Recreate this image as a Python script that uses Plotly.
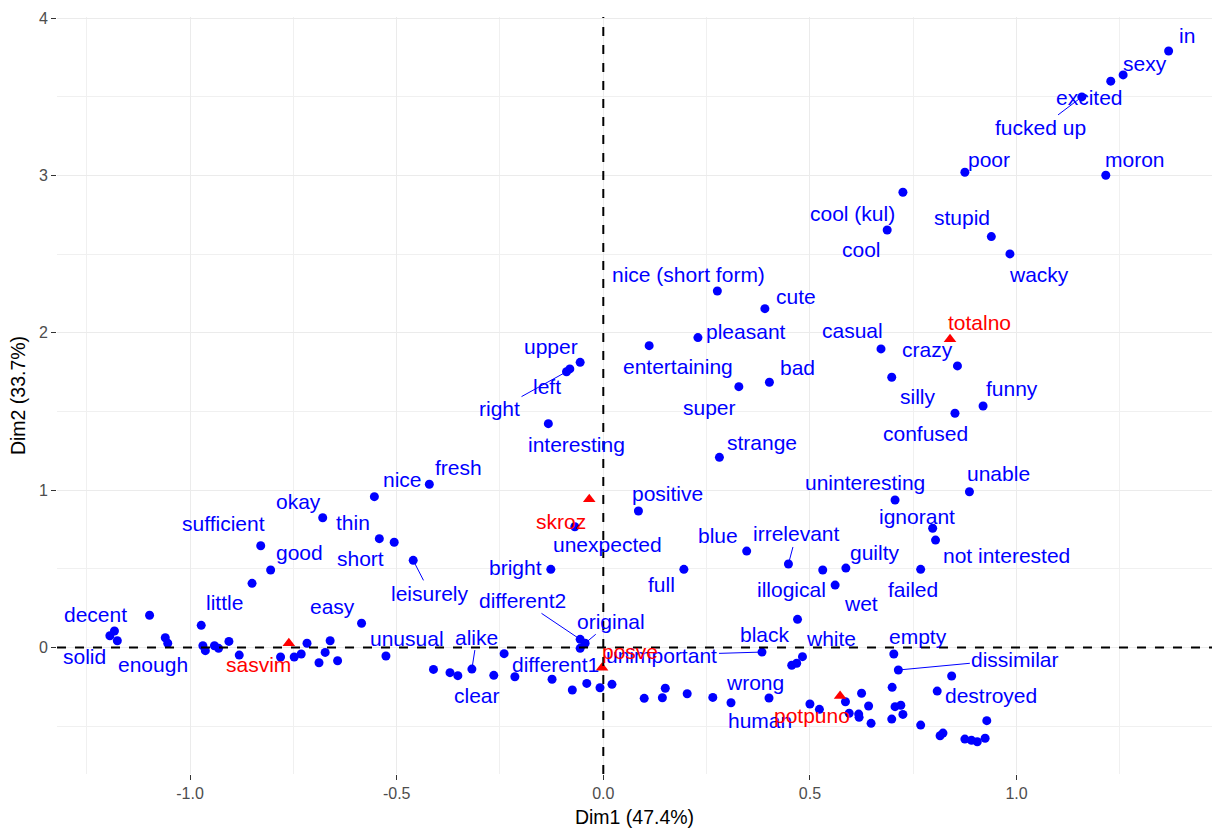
import plotly.graph_objects as go

# ---- data: row points (blue) ----
row_words = [
    "decent", "solid", None, None, None, "enough", "little", None, None, None,
    None, None, None, None, "sufficient", "good", None, None, None, None,
    None, None, None, None, "okay", "easy", "unusual", "nice", "thin", "short",
    "fresh", "leisurely", None, None, "clear", "alike", None, None, None, None,
    None, None, None, None, "different2", "original", "different1", "bright", "unexpected", "positive",
    "full", "blue", None, None, None, None, None, "human", "unimportant", "wrong",
    "black", "white", None, None, "irrelevant", "illogical", "guilty", "wet", "failed", "empty",
    "dissimilar", "destroyed", None, None, None, None, None, None, None, None,
    None, None, None, None, None, None, None, None, None, None,
    None, None, None, None, None, "interesting", "right", "left", "upper", "entertaining",
    "pleasant", "nice (short form)", "cute", "bad", "super", "strange", "casual", "crazy", "silly", "funny",
    "confused", "uninteresting", "unable", "ignorant", "not interested", "cool (kul)", "cool", "stupid", "wacky", "poor",
    "moron", "fucked up", "excited", "sexy", "in",
]
row_dim1 = [
    -1.183, -1.194, -1.176, -1.098, -1.060, -1.054, -0.973, -0.969, -0.963, -0.941,
    -0.931, -0.906, -0.881, -0.850, -0.829, -0.805, -0.781, -0.748, -0.731, -0.717,
    -0.688, -0.673, -0.661, -0.643, -0.679, -0.585, -0.526, -0.554, -0.542, -0.506,
    -0.421, -0.460, -0.411, -0.371, -0.352, -0.318, -0.265, -0.240, -0.214, -0.124,
    -0.075, -0.040, -0.008, 0.021, -0.056, -0.044, -0.056, -0.127, -0.069, 0.085,
    0.195, 0.347, 0.099, 0.143, 0.150, 0.203, 0.265, 0.309, 0.384, 0.401,
    0.470, 0.482, 0.468, 0.456, 0.448, 0.531, 0.587, 0.561, 0.768, 0.703,
    0.714, 0.843, 0.699, 0.808, 0.500, 0.523, 0.586, 0.625, 0.642, 0.595,
    0.618, 0.619, 0.648, 0.698, 0.706, 0.720, 0.725, 0.768, 0.815, 0.822,
    0.875, 0.891, 0.905, 0.924, 0.928, -0.133, -0.089, -0.081, -0.056, 0.111,
    0.229, 0.276, 0.391, 0.402, 0.328, 0.281, 0.672, 0.857, 0.698, 0.919,
    0.851, 0.706, 0.886, 0.797, 0.804, 0.725, 0.687, 0.939, 0.984, 0.875,
    1.216, 1.158, 1.228, 1.258, 1.368,
]
row_dim2 = [
    0.105, 0.075, 0.043, 0.205, 0.062, 0.027, 0.141, 0.011, -0.020, 0.011,
    -0.005, 0.039, -0.048, 0.408, 0.647, 0.493, -0.060, -0.060, -0.041, 0.027,
    -0.097, -0.031, 0.043, -0.084, 0.825, 0.154, -0.054, 0.959, 0.692, 0.669,
    1.038, 0.554, -0.139, -0.160, -0.179, -0.137, -0.177, -0.039, -0.186, -0.202,
    -0.270, -0.228, -0.256, -0.234, 0.052, 0.027, -0.005, 0.497, 0.768, 0.868,
    0.497, 0.613, -0.323, -0.319, -0.259, -0.294, -0.317, -0.351, -0.029, -0.321,
    0.179, -0.058, -0.100, -0.113, 0.531, 0.493, 0.505, 0.397, 0.497, -0.041,
    -0.143, -0.181, -0.253, -0.277, -0.359, -0.393, -0.345, -0.291, -0.372, -0.418,
    -0.423, -0.444, -0.482, -0.455, -0.376, -0.367, -0.425, -0.493, -0.561, -0.544,
    -0.582, -0.590, -0.599, -0.577, -0.465, 1.423, 1.753, 1.771, 1.813, 1.919,
    1.970, 2.266, 2.154, 1.686, 1.658, 1.209, 1.898, 1.790, 1.718, 1.535,
    1.489, 0.938, 0.990, 0.758, 0.683, 2.894, 2.654, 2.612, 2.502, 3.021,
    3.002, 3.500, 3.600, 3.640, 3.792,
]

# ---- data: column points (red) ----
col_words = ["sasvim", "skroz", "posve", "potpuno", "totalno"]
col_dim1 = [-0.761, -0.034, -0.003, 0.573, 0.839]
col_dim2 = [0.027, 0.942, -0.128, -0.308, 1.959]

# ---- axis ticks ----
x_tick_vals = [-1.0, -0.5, 0.0, 0.5, 1.0]
x_tick_text = ["-1.0", "-0.5", "0.0", "0.5", "1.0"]
y_tick_vals = [0, 1, 2, 3, 4]
y_tick_text = ["0", "1", "2", "3", "4"]
x_title = "Dim1 (47.4%)"
y_title = "Dim2 (33.7%)"

# ---- label placement (pixel offsets from point, repel-style; seg = draw segment) ----
label_offsets = {
    "decent": (-19, -17, 0), "solid": (-25, 21, 0), "enough": (-15, 21, 0),
    "little": (23, -23, 0), "sufficient": (-37, -22, 0), "good": (29, -17, 0),
    "okay": (-24, -16, 0), "easy": (-29, -17, 0), "unusual": (21, -18, 0),
    "nice": (28, -17, 0), "thin": (-26, -16, 0), "short": (-34, 16, 0),
    "fresh": (29, -17, 0), "leisurely": (17, 33, 1), "clear": (19, 20, 0),
    "alike": (5, -32, 1), "different2": (-58, -39, 1), "original": (26, -22, 1),
    "different1": (-25, 16, 0), "bright": (-35, -2, 0), "unexpected": (33, 18, 0),
    "positive": (29, -17, 0), "full": (-22, 15, 0), "blue": (-29, -16, 0),
    "human": (29, 18, 0), "unimportant": (-100, 3, 1), "wrong": (-14, -16, 0),
    "black": (-33, 15, 0), "white": (29, -18, 0), "irrelevant": (8, -30, 1),
    "illogical": (-31, 20, 0), "guilty": (29, -16, 0), "wet": (26, 18, 0),
    "failed": (-8, 20, 0), "empty": (24, -17, 0), "dissimilar": (117, -11, 1),
    "destroyed": (39, 20, 0), "interesting": (28, 21, 0), "right": (-67, 37, 1),
    "left": (-23, 18, 0), "upper": (-29, -16, 0), "entertaining": (29, 21, 0),
    "pleasant": (48, -6, 0), "nice (short form)": (-29, -17, 0), "cute": (31, -12, 0),
    "bad": (28, -15, 0), "super": (-29, 21, 0), "strange": (43, -15, 0),
    "casual": (-29, -18, 0), "crazy": (-30, -16, 0), "silly": (26, 19, 0),
    "funny": (29, -18, 0), "confused": (-29, 20, 0), "uninteresting": (-30, -17, 0),
    "unable": (29, -18, 0), "ignorant": (-16, -12, 0), "not interested": (71, 15, 0),
    "cool (kul)": (-50, 21, 0), "cool": (-26, 19, 0), "stupid": (-29, -19, 0),
    "wacky": (29, 21, 0), "poor": (24, -13, 0), "moron": (29, -16, 0),
    "fucked up": (-41, 31, 1), "excited": (-21, 16, 0), "sexy": (22, -11, 0),
    "in": (18, -15, 0),
    "sasvim": (-30, 21, 0), "skroz": (-28, 22, 0), "posve": (28, -16, 0),
    "potpuno": (-28, 20, 0), "totalno": (29, -17, 0),
}

FONT = "Liberation Sans, Arial, sans-serif"

fig = go.Figure()
fig.add_trace(go.Scatter(
    x=row_dim1, y=row_dim2, mode="markers",
    marker=dict(color="#0000FF", size=9),
    text=[w or "" for w in row_words], hoverinfo="text", showlegend=False,
))
fig.add_trace(go.Scatter(
    x=col_dim1, y=col_dim2, mode="markers",
    marker=dict(color="#FF0000", size=11, symbol="triangle-up"),
    text=col_words, hoverinfo="text", showlegend=False,
))

annotations = []

def add_labels(words, xs, ys, color):
    for w, x, y in zip(words, xs, ys):
        if not w or w not in label_offsets:
            continue
        dx, dy, seg = label_offsets[w]
        base = dict(x=x, y=y, xref="x", yref="y", text=w,
                    font=dict(family=FONT, size=21, color=color))
        if seg:
            base.update(showarrow=True, ax=dx, ay=dy, arrowhead=0,
                        arrowwidth=1, arrowcolor=color, standoff=3)
        else:
            base.update(showarrow=False, xshift=dx, yshift=-dy)
        annotations.append(base)

add_labels(row_words, row_dim1, row_dim2, "#0000FF")
add_labels(col_words, col_dim1, col_dim2, "#FF0000")

fig.update_layout(
    width=1212, height=833,
    margin=dict(l=57, r=0, t=17, b=59),
    plot_bgcolor="white", paper_bgcolor="white",
    annotations=annotations,
    shapes=[
        dict(type="line", xref="x", yref="paper", x0=0, x1=0, y0=0, y1=1,
             line=dict(color="black", width=2, dash="dash"), layer="above"),
        dict(type="line", xref="paper", yref="y", x0=0, x1=1, y0=0, y1=0,
             line=dict(color="black", width=2, dash="dash"), layer="above"),
    ],
)
fig.update_xaxes(
    range=[-1.322, 1.473], tickvals=x_tick_vals, ticktext=x_tick_text,
    showgrid=True, gridcolor="#ebebeb", gridwidth=1.2, zeroline=False,
    minor=dict(dtick=0.25, tick0=0, showgrid=True, gridcolor="#f0f0f0", gridwidth=1),
    ticks="outside", ticklen=5, tickcolor="#333333", tickwidth=1,
    tickfont=dict(family=FONT, size=16, color="#4d4d4d"),
    title=dict(text=x_title, font=dict(family=FONT, size=19.5, color="black"), standoff=9),
    showline=False,
)
fig.update_yaxes(
    range=[-0.804, 4.008], tickvals=y_tick_vals, ticktext=y_tick_text,
    showgrid=True, gridcolor="#ebebeb", gridwidth=1.2, zeroline=False,
    minor=dict(dtick=0.5, tick0=0, showgrid=True, gridcolor="#f0f0f0", gridwidth=1),
    ticks="outside", ticklen=5, tickcolor="#333333", tickwidth=1,
    tickfont=dict(family=FONT, size=16, color="#4d4d4d"),
    title=dict(text=y_title, font=dict(family=FONT, size=19.5, color="black"), standoff=8),
    showline=False,
)

fig.write_html("out.html", config={"displayModeBar": False},
               post_script="document.body.style.margin='0px';")
